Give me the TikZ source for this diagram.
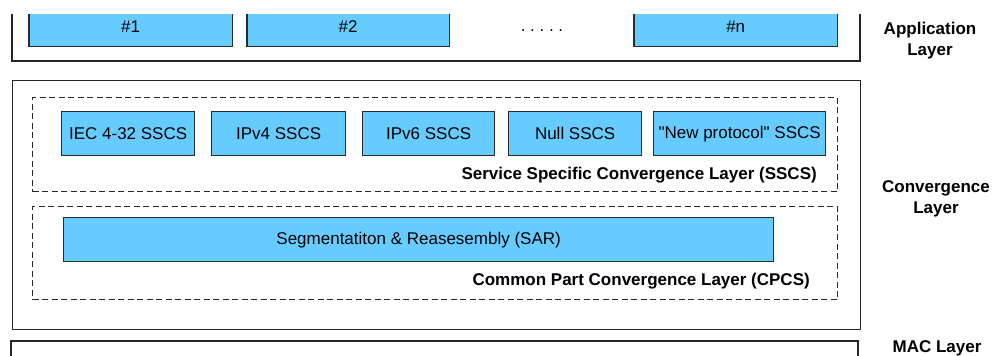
\documentclass[tikz,border=0pt]{standalone}
\usepackage{fontspec}
\setmainfont{Liberation Sans}
\newfontfamily\qfont{Liberation Sans}[Ligatures=TeXOff]
\definecolor{boxblue}{HTML}{66CCFF}
\definecolor{edge}{HTML}{2A2A2A}
\begin{document}
\begin{tikzpicture}[x=1pt,y=-1pt,
  every node/.style={font=\fontsize{17}{20}\selectfont, inner sep=0pt},
  bluebox/.style={fill=boxblue, draw=edge, line width=1.3pt, anchor=north west},
  appfill/.style={fill=boxblue, anchor=north west},
  edgeline/.style={draw=edge, line width=1.3pt},
  outer/.style={draw=black!85, line width=1.3pt},
  dashbox/.style={draw=black!85, line width=1.1pt, dash pattern=on 6pt off 3.5pt},
  layerlabel/.style={font=\bfseries\fontsize{17}{21}\selectfont, align=center},
  sublabel/.style={font=\bfseries\fontsize{17}{20}\selectfont, anchor=east}]
\useasboundingbox (0,0) rectangle (994,356);

% Application layer (cut at the top)
\coordinate (apptl) at (12,14);
\coordinate (apptr) at (860,14);
\coordinate (appbl) at (12,61);
\coordinate (appbr) at (860,61);
\draw[outer] (apptl) -- (appbl) -- (appbr) -- (apptr);
\node[appfill, minimum width=203pt, minimum height=32pt] (a1) at (29,14) {};
\node[appfill, minimum width=202pt, minimum height=32pt] (a2) at (247,14) {};
\node[appfill, minimum width=203pt, minimum height=32pt] (an) at (634,14) {};
\foreach \b in {a1,a2,an}
  \draw[edgeline] (\b.north west) -- (\b.south west) -- (\b.south east) -- (\b.north east);
\node (t1) at ([yshift=4pt]a1.center) {\#1};
\node (t2) at ([yshift=4pt]a2.center) {\#2};
\node (tn) at ([yshift=4pt]an.center) {\#n};
\node (dots) at (542,31) {.\hspace{4.7pt}.\hspace{4.7pt}.\hspace{4.7pt}.\hspace{4.7pt}.};
\node[layerlabel] (applbl) at (930,41) {Application\\Layer};

% Convergence layer
\node[outer, anchor=north west, minimum width=848pt, minimum height=249pt] (conv) at (12,80) {};
\node[dashbox, anchor=north west, minimum width=805pt, minimum height=94pt] (sscs) at (32,97) {};
\node[dashbox, anchor=north west, minimum width=805pt, minimum height=93pt] (cpcs) at (32,206) {};

\node[bluebox, minimum width=133pt, minimum height=44pt] (iec) at (61,111) {};
\node at (iec.center) {IEC 4-32 SSCS};
\node[bluebox, minimum width=134pt, minimum height=44pt] (ipv4) at (211,111) {};
\node at (ipv4.center) {IPv4 SSCS};
\node[bluebox, minimum width=132pt, minimum height=44pt] (ipv6) at (362,111) {};
\node at (ipv6.center) {IPv6 SSCS};
\node[bluebox, minimum width=133pt, minimum height=44pt] (null) at (508,111) {};
\node at (null.center) {Null SSCS};
\node[bluebox, minimum width=172pt, minimum height=44pt] (newp) at (653,111) {};
\node at (newp.center) {{\qfont "New protocol"} SSCS};
\node[sublabel] (sscslbl) at (817,175) {Service Specific Convergence Layer (SSCS)};

\node[bluebox, minimum width=710pt, minimum height=44pt] (sar) at (63,217) {};
\node at (sar.center) {Segmentatiton \& Reasesembly (SAR)};
\node[sublabel] (cpcslbl) at (810,281) {Common Part Convergence Layer (CPCS)};

\node[layerlabel] (convlbl) at (936,199) {Convergence\\Layer};

% MAC layer (cut at the bottom)
\coordinate (macbl) at (11,360);
\coordinate (mactl) at (11,341);
\coordinate (mactr) at (858,341);
\coordinate (macbr) at (858,360);
\draw[outer] (macbl) -- (mactl) -- (mactr) -- (macbr);
\node[layerlabel] (maclbl) at (937,348) {MAC Layer};
\end{tikzpicture}
\end{document}
